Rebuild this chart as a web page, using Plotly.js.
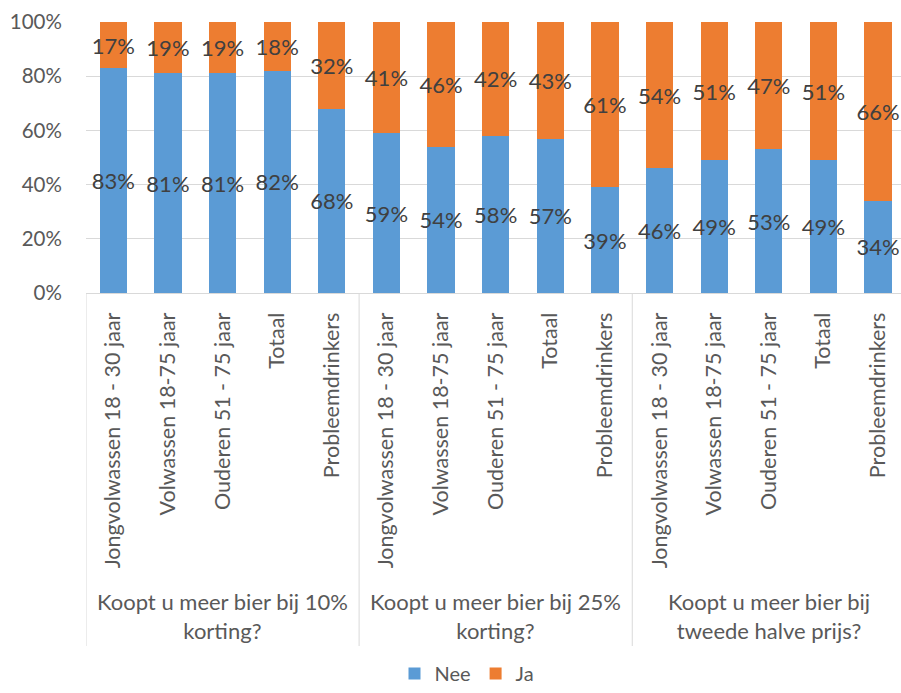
<!DOCTYPE html>
<html>
<head>
<meta charset="utf-8">
<script src="https://cdn.plot.ly/plotly-3.0.1.min.js"></script>
<style>
  html, body { margin: 0; padding: 0; background: #ffffff; overflow: hidden; }
  #chart { width: 901px; height: 693px; }
</style>
</head>
<body>
<div id="chart"></div>
<script>
// ---- data ----
const groups = [
  "Koopt u meer bier bij 10%<br>korting?",
  "Koopt u meer bier bij 25%<br>korting?",
  "Koopt u meer bier bij<br>tweede halve prijs?"
];
const subcategories = [
  "Jongvolwassen 18 - 30 jaar",
  "Volwassen 18-75 jaar",
  "Ouderen 51 - 75 jaar",
  "Totaal",
  "Probleemdrinkers"
];
const nee = [83, 81, 81, 82, 68, 59, 54, 58, 57, 39, 46, 49, 53, 49, 34];
const ja  = [17, 19, 19, 18, 32, 41, 46, 42, 43, 61, 54, 51, 47, 51, 66];
const seriesNames = ["Nee", "Ja"];
const yTicks = [0, 0.2, 0.4, 0.6, 0.8, 1.0];

// ---- derived ----
const n = nee.length;
const xIdx = nee.map((_, i) => i);
const tickText = xIdx.map(i => subcategories[i % subcategories.length]);
const perGroup = subcategories.length;

const font = "Lato, 'Open Sans', 'Noto Sans', sans-serif";
const axisColor = "#595959";
const labelColor = "#404040";

function barTrace(name, vals, color) {
  return {
    type: "bar",
    name: name,
    x: xIdx,
    y: vals.map(v => v / 100),
    width: 0.5,
    marker: { color: color, line: { width: 0 } },
    text: vals.map(v => v + "%"),
    textposition: "inside",
    insidetextanchor: "middle",
    textangle: 0,
    constraintext: "none",
    textfont: { family: font, size: 22, color: labelColor },
    hoverinfo: "skip"
  };
}

const data = [
  barTrace(seriesNames[0], nee, "#5B9BD5"),
  barTrace(seriesNames[1], ja, "#ED7D31")
];

const plotTop = 22, plotH = 271;
function paperY(px) { return (plotTop + plotH - px) / plotH; }

const shapes = [];
for (let g = 0; g <= groups.length - 1; g++) {
  const xb = g * perGroup - 0.5;
  shapes.push({
    type: "line", xref: "x", yref: "paper",
    x0: xb, x1: xb, y0: 0, y1: paperY(646),
    line: { color: "#D9D9D9", width: 1 }
  });
}

const annotations = groups.map((g, k) => ({
  text: g,
  xref: "x", yref: "paper",
  x: k * perGroup + (perGroup - 1) / 2,
  y: paperY(616),
  xanchor: "center", yanchor: "middle",
  showarrow: false,
  align: "center",
  font: { family: font, size: 22, color: axisColor }
}));

const layout = {
  width: 901, height: 693,
  autosize: false,
  margin: { l: 86, r: 0, t: plotTop, b: 693 - plotTop - plotH, pad: 0 },
  paper_bgcolor: "#ffffff",
  plot_bgcolor: "#ffffff",
  barmode: "stack",
  showlegend: true,
  font: { family: font, color: axisColor },
  xaxis: {
    type: "linear",
    range: [-0.5, n - 0.58],
    tickmode: "array",
    tickvals: xIdx,
    ticktext: tickText,
    tickangle: -90,
    ticks: "outside",
    ticklen: 10,
    tickcolor: "rgba(0,0,0,0)",
    tickfont: { family: font, size: 21.5, color: axisColor },
    showgrid: false,
    zeroline: false,
    showline: true,
    linecolor: "#D9D9D9",
    linewidth: 1,
    automargin: false,
    fixedrange: true
  },
  yaxis: {
    range: [0, 1],
    tickmode: "array",
    tickvals: yTicks,
    tickformat: ".0%",
    ticks: "outside",
    ticklen: 19,
    tickcolor: "rgba(0,0,0,0)",
    tickfont: { family: font, size: 20.5, color: axisColor },
    showgrid: true,
    gridcolor: "#D9D9D9",
    gridwidth: 1,
    zeroline: false,
    showline: false,
    automargin: false,
    fixedrange: true
  },
  legend: {
    orientation: "h",
    xref: "paper",
    x: (467 - 86) / 815,
    xanchor: "center",
    yref: "container",
    y: -0.008,
    yanchor: "bottom",
    font: { family: font, size: 20, color: axisColor },
    traceorder: "normal"
  },
  shapes: shapes,
  annotations: annotations
};

Plotly.newPlot("chart", data, layout, { displayModeBar: false, staticPlot: true });
</script>
</body>
</html>
